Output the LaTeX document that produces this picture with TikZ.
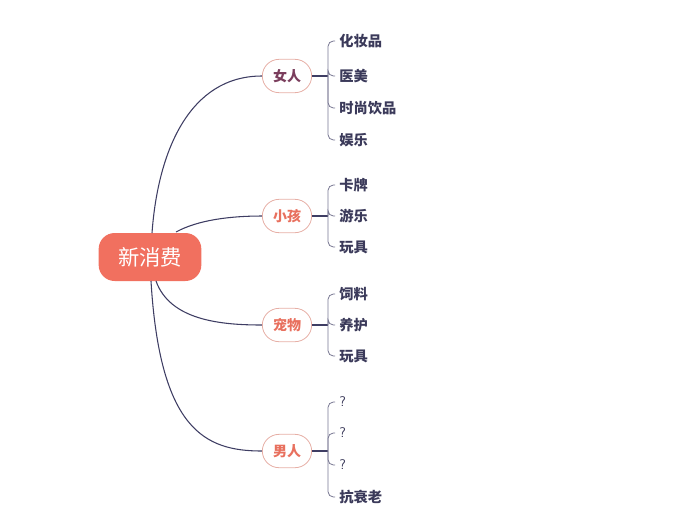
\documentclass[tikz,border=0pt]{standalone}
\usepackage{fontspec}
\newfontfamily\cjk{Noto Sans CJK SC}
\usepackage{xcolor}
\usetikzlibrary{positioning,calc}
\definecolor{rootred}{HTML}{F1705F}
\definecolor{capline}{HTML}{E6AFA6}
\definecolor{captext}{HTML}{E8705E}
\definecolor{womantext}{HTML}{7A3D5C}
\definecolor{linkblue}{HTML}{3E3D63}
\definecolor{leaftext}{HTML}{3B3A5A}
\tikzset{root/.style={fill=rootred,rounded corners=12pt,minimum width=77pt,minimum height=36pt,text=white,font=\cjk\fontsize{16}{16}\selectfont},
  capsule/.style={draw=capline,line width=0.6pt,rounded corners=12.5pt,minimum width=37pt,minimum height=25pt,inner sep=1pt,text=captext,font=\cjk\bfseries\fontsize{10.5}{10.5}\selectfont},
  leaf/.style={anchor=west,inner xsep=3pt,inner ysep=1pt,text=leaftext,font=\cjk\bfseries\fontsize{10.7}{10.7}\selectfont},
  link/.style={draw=linkblue,line width=0.8pt},
  brk/.style={draw=linkblue!70,line width=0.6pt,rounded corners=4pt}}

\begin{document}
\begin{tikzpicture}[x=0.75pt,y=-0.75pt]
  \useasboundingbox (0,0) rectangle (698,519);
  \node[root] (n0) at (150,257) {新消费};
  \node[capsule,text=womantext] (n1) at (287,76) {女人};
  \node[capsule] (n2) at (287,216) {小孩};
  \node[capsule] (n3) at (287,325) {宠物};
  \node[capsule] (n4) at (287,451) {男人};

  \draw[link] (152,233) .. controls (158,150) and (190,76) .. (n1.west);
  \draw[link] (176,232) .. controls (198,220) and (230,216) .. (n2.west);
  \draw[link] (156,281) .. controls (170,320) and (220,325) .. (n3.west);
  \draw[link] (151,281) .. controls (160,430) and (205,451) .. (n4.west);

  % leaves
  \node[leaf] (a1) at (335,41) {化妆品};
  \node[leaf] (a2) at (335,76) {医美};
  \node[leaf] (a3) at (335,108) {时尚饮品};
  \node[leaf] (a4) at (335,140) {娱乐};
  \node[leaf] (b1) at (335,185) {卡牌};
  \node[leaf] (b2) at (335,216) {游乐};
  \node[leaf] (b3) at (335,247) {玩具};
  \node[leaf] (c1) at (335,294) {饲料};
  \node[leaf] (c2) at (335,325) {养护};
  \node[leaf] (c3) at (335,356) {玩具};
  \node[leaf,font=\fontsize{10.5}{10.5}\selectfont\sffamily] (d1) at (335,402) {?};
  \node[leaf,font=\fontsize{10.5}{10.5}\selectfont\sffamily] (d2) at (335,433) {?};
  \node[leaf,font=\fontsize{10.5}{10.5}\selectfont\sffamily] (d3) at (335,465) {?};
  \node[leaf] (d4) at (335,497) {抗衰老};

  \coordinate (k1) at (328,76);
  \coordinate (k2) at (328,216);
  \coordinate (k3) at (328,325);
  \coordinate (k4) at (328,451);
  \draw[link] (n1.east) -- (k1);
  \draw[link] (n2.east) -- (k2);
  \draw[link] (n3.east) -- (k3);
  \draw[link] (n4.east) -- (k4);
  \foreach \k/\l in {k1/a1,k1/a2,k1/a3,k1/a4,k2/b1,k2/b2,k2/b3,k3/c1,k3/c2,k3/c3,k4/d1,k4/d2,k4/d3,k4/d4}
    \draw[brk] (\k) |- (\l.west);
\end{tikzpicture}
\end{document}
